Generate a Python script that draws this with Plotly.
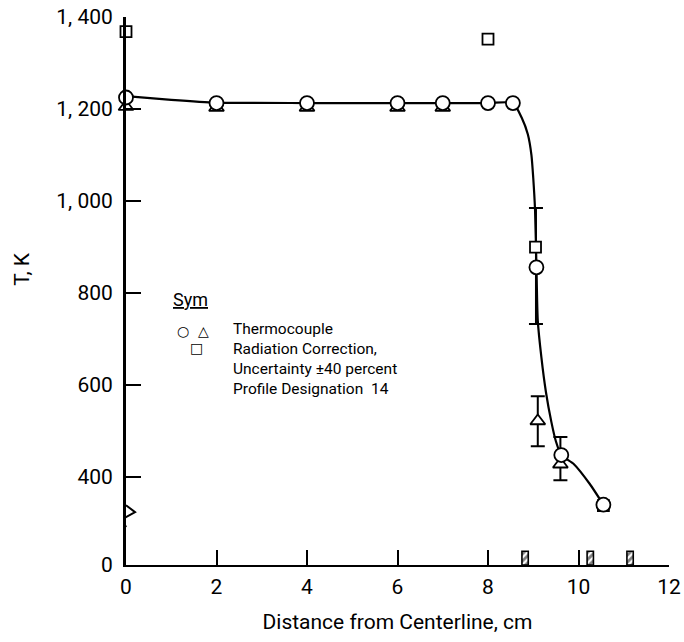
import plotly.graph_objects as go

# ---------------- data ----------------
# fitted profile curve
curve_x = [0, 1, 2, 4, 6, 7, 8, 8.55, 8.75, 8.88, 8.96, 9.0, 9.04, 9.07, 9.1,
           9.18, 9.28, 9.4, 9.5, 9.62, 9.9, 10.25, 10.55]
curve_y = [1228, 1220, 1214, 1213, 1213, 1213, 1213, 1213, 1180, 1145, 1100,
           1050, 980, 860, 740, 660, 585, 520, 478, 448, 428, 385, 340]

# thermocouple, circles
circ_x = [0, 2, 4, 6, 7, 8, 8.55, 9.07, 9.62, 10.55]
circ_y = [1225, 1213, 1213, 1213, 1213, 1213, 1213, 856, 448, 340]

# thermocouple, triangles
tri_x = [0, 2, 4, 6, 7, 9.1, 9.6]
tri_y = [1205, 1203, 1203, 1203, 1203, 522, 428]

# radiation correction, squares
sq_x = [0, 8.0, 9.05, 10.55]
sq_y = [1368, 1352, 900, 338]

# uncertainty bars (low / high)
err_x = [9.06, 9.1, 9.6]
err_lo = [733, 467, 393]
err_hi = [985, 576, 487]

# probe positions marked on the x axis
probe_x = [8.82, 10.26, 11.14]

# axis ticks (broken y axis: bottom of the axis is labelled 0)
y_bottom = 209
y_tickvals = [y_bottom, 400, 600, 800, 1000, 1200, 1400]
y_ticktext = ["0", "400", "600", "800", "1, 000", "1, 200", "1, 400"]
x_tickvals = [0, 2, 4, 6, 8, 10, 12]

key_lines = ["Thermocouple", "Radiation Correction,",
             "Uncertainty ±40 percent", "Profile Designation  14"]

FONT = "Roboto, Liberation Sans, sans-serif"

err_mid = [(a + b) / 2 for a, b in zip(err_lo, err_hi)]
err_half = [(b - a) / 2 for a, b in zip(err_lo, err_hi)]

fig = go.Figure()

# hatched probe boxes on the x axis
fig.add_trace(go.Bar(
    x=probe_x, y=[30] * len(probe_x), base=y_bottom, width=0.14,
    marker=dict(color="white", line=dict(color="black", width=1.6),
                pattern=dict(shape="/", fgcolor="black", bgcolor="white",
                             size=5, solidity=0.55)),
    hoverinfo="skip", showlegend=False))

# curve
fig.add_trace(go.Scatter(
    x=curve_x, y=curve_y, mode="lines",
    line=dict(color="black", width=2.2, shape="spline", smoothing=0.6),
    hoverinfo="skip", showlegend=False, cliponaxis=False))

# uncertainty bars
fig.add_trace(go.Scatter(
    x=err_x, y=err_mid, mode="markers",
    marker=dict(size=1, color="rgba(0,0,0,0)"),
    error_y=dict(type="data", array=err_half, visible=True,
                 color="black", thickness=2, width=7),
    showlegend=False, cliponaxis=False))

marker_line = dict(color="black", width=1.8)
fig.add_trace(go.Scatter(
    x=sq_x, y=sq_y, mode="markers",
    marker=dict(symbol="square", size=11, color="white", line=marker_line),
    showlegend=False, cliponaxis=False))
fig.add_trace(go.Scatter(
    x=tri_x, y=tri_y, mode="markers",
    marker=dict(symbol="triangle-up", size=13, color="white", line=marker_line),
    showlegend=False, cliponaxis=False))
fig.add_trace(go.Scatter(
    x=circ_x, y=circ_y, mode="markers",
    marker=dict(symbol="circle", size=14, color="white", line=marker_line),
    showlegend=False, cliponaxis=False))

# axis break symbol on the y axis
fig.add_shape(type="rect", xref="x", yref="y", x0=-0.06, x1=0.06, y0=291, y1=339,
              fillcolor="white", line=dict(width=0), layer="above")
fig.add_shape(type="path", xref="x", yref="y",
              path="M 0,339 L 0.2,324 L -0.08,309 L 0,291",
              line=dict(color="black", width=2), layer="above")

# y axis title
fig.add_annotation(x=-0.192, y=0.54, xref="paper", yref="paper", text="T, K",
                   textangle=-90, showarrow=False, xanchor="center", yanchor="middle",
                   font=dict(family=FONT, size=21, color="black"))

# in-plot key
fig.add_annotation(x=0.083, y=0.484, xref="paper", yref="paper", text="<u>Sym</u>",
                   showarrow=False, xanchor="left", yanchor="middle",
                   font=dict(family=FONT, size=18, color="black"))
fig.add_annotation(x=0.090, y=0.427, xref="paper", yref="paper", text="○  △",
                   showarrow=False, xanchor="left", yanchor="middle",
                   font=dict(family="DejaVu Sans", size=14, color="black"))
fig.add_annotation(x=0.13, y=0.396, xref="paper", yref="paper", text="□",
                   showarrow=False, xanchor="center", yanchor="middle",
                   font=dict(family="DejaVu Sans", size=14, color="black"))
fig.add_annotation(x=0.193, y=0.376, xref="paper", yref="paper",
                   text="<br>".join(key_lines), align="left",
                   showarrow=False, xanchor="left", yanchor="middle",
                   font=dict(family=FONT, size=15.5, color="black"))

fig.update_layout(
    width=684, height=642,
    margin=dict(l=126, r=15, t=17, b=77),
    paper_bgcolor="white", plot_bgcolor="white",
    barmode="overlay", showlegend=False,
    font=dict(family=FONT, color="black", size=20),
)
fig.update_xaxes(
    range=[0, 12], tickvals=x_tickvals, ticktext=[str(v) for v in x_tickvals],
    ticks="inside", ticklen=15, tickwidth=1.5, tickcolor="black",
    showline=True, linecolor="black", linewidth=2, mirror=False,
    showgrid=False, zeroline=False, automargin=False,
    tickfont=dict(family=FONT, size=21), ticklabelstandoff=2,
    title=dict(text="Distance from Centerline, cm", font=dict(family=FONT, size=21), standoff=16),
)
fig.update_yaxes(
    range=[y_bottom, 1400], tickvals=y_tickvals, ticktext=y_ticktext,
    ticks="inside", ticklen=15, tickwidth=1.5, tickcolor="black",
    showline=True, linecolor="black", linewidth=3, mirror=False,
    showgrid=False, zeroline=False, automargin=False,
    tickfont=dict(family=FONT, size=21), ticklabelstandoff=6,
)

fig.write_html("out.html")
